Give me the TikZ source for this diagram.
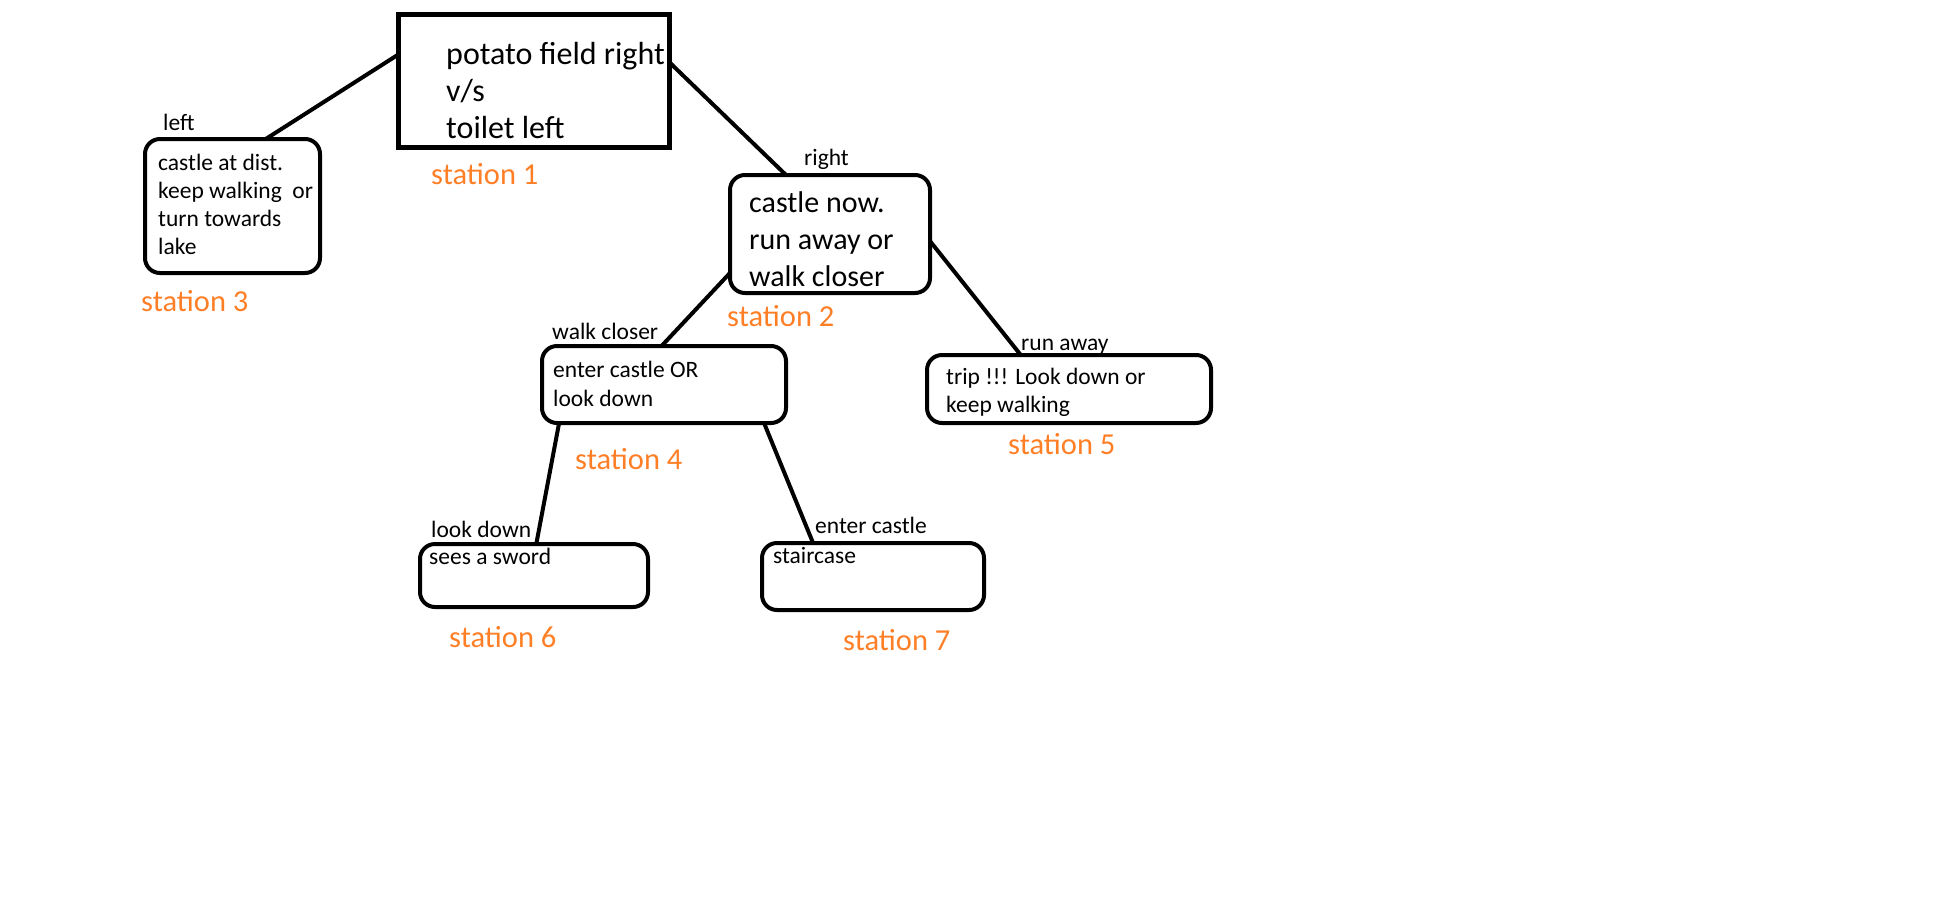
\documentclass[tikz,border=0pt]{standalone}
\usepackage{fontspec}
\setmainfont{Carlito}
\usetikzlibrary{calc}
\definecolor{paintorange}{HTML}{FF7F27}
\begin{document}
\begin{tikzpicture}[x=1pt,y=-1pt,
  box/.style={draw, line width=4pt, rounded corners=15pt, inner sep=0pt, outer sep=0pt},
  sqbox/.style={draw, line width=5pt, inner sep=0pt, outer sep=0pt},
  txt/.style={anchor=west, inner sep=0pt, align=left, font=\fontsize{23.5}{28}\selectfont},
  bigtxt/.style={anchor=west, inner sep=0pt, align=left, font=\fontsize{32}{37}\selectfont},
  lbl/.style={anchor=base west, inner sep=0pt, font=\fontsize{23.5}{28}\selectfont},
  stn/.style={anchor=base west, inner sep=0pt, text=paintorange, font=\fontsize{30.5}{36}\selectfont},
  link/.style={line width=4pt}]
\path[fill=white, use as bounding box] (0,0) rectangle (1934,916);

% boxes
\node[sqbox, minimum width=271pt, minimum height=133pt] (s1) at (534,81) {};
\node[box, minimum width=175pt, minimum height=134pt] (s3) at (232.5,206) {};
\node[box, minimum width=200pt, minimum height=118pt] (s2) at (830,234) {};
\node[box, minimum width=244pt, minimum height=77pt] (s4) at (664,384.5) {};
\node[box, minimum width=284pt, minimum height=68pt] (s5) at (1069,389) {};
\node[box, minimum width=228pt, minimum height=63pt] (s6) at (534,575.5) {};
\node[box, minimum width=222pt, minimum height=67pt] (s7) at (873,576.5) {};

% box texts
\node[bigtxt] (t1) at (446,91) {potato field right\\v/s\\toilet left};
\node[txt] (t3) at (158,204) {castle at dist.\\keep walking\ \ or\\turn towards\\lake};
\node[bigtxt, font=\fontsize{30}{37}\selectfont] (t2) at (749,239) {castle now.\\run away or\\walk closer};
\node[txt, font=\fontsize{23.5}{29}\selectfont] (t4) at (553,383.5) {enter castle OR\\look down};
\node[txt] (t5) at (946,392.5) {trip !!! Look down or\\keep walking};
\node[lbl] (t6) at (429,564.5) {sees a sword};
\node[lbl] (t7) at (773,563.5) {staircase};

% connector labels
\node[lbl] (lleft) at (163,130) {left};
\node[lbl] (lright) at (804,165) {right};
\node[lbl] (lwalk) at (552,339) {walk closer};
\node[lbl] (lrun) at (1021,350) {run away};
\node[lbl] (llook) at (431,537) {look down};
\node[lbl] (lenter) at (815,533) {enter castle};

% station labels
\node[stn] (n1) at (431,184.5) {station 1};
\node[stn] (n3) at (141,311.5) {station 3};
\node[stn] (n2) at (727,326.5) {station 2};
\node[stn] (n4) at (575,469.5) {station 4};
\node[stn] (n5) at (1008,454.5) {station 5};
\node[stn] (n6) at (449,647.5) {station 6};
\node[stn] (n7) at (843,650.5) {station 7};

% connectors
\draw[link] ($(s1.north west)!0.30!(s1.south west)$) -- ($(s3.north west)!0.69!(s3.north east)$);
\draw[link] ($(s1.north east)!0.36!(s1.south east)$) -- ($(s2.north west)!0.28!(s2.north east)$);
\draw[link] ($(s2.north west)!0.83!(s2.south west)$) -- ($(s4.north west)!0.49!(s4.north east)$);
\draw[link] ($(s2.north east)!0.56!(s2.south east)$) -- ($(s5.north west)!0.33!(s5.north east)$);
\draw[link] ($(s4.south west)!0.07!(s4.south east)$) -- ($(s6.north west)!0.51!(s6.north east)$);
\draw[link] ($(s4.south west)!0.91!(s4.south east)$) -- ($(s7.north west)!0.23!(s7.north east)$);
\end{tikzpicture}
\end{document}
